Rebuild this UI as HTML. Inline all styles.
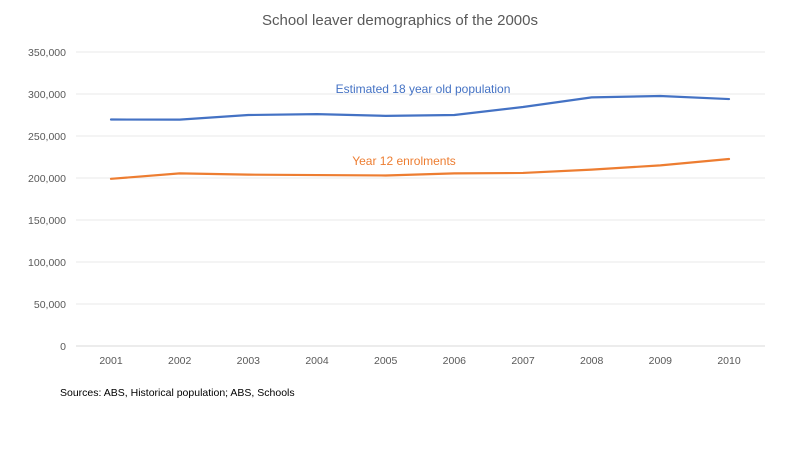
<!DOCTYPE html>
<html><head><meta charset="utf-8"><style>
body{margin:0;background:#fff;}
svg{font-family:"Liberation Sans",sans-serif;}
</style></head><body>
<svg id="chart" width="800" height="450">
<rect width="800" height="450" fill="#fff"/>
<text x="400" y="25" text-anchor="middle" font-size="15" fill="#595959">School leaver demographics of the 2000s</text>
<g id="grid"></g><g id="ylabels"></g><g id="xlabels"></g><g id="series"></g>
<text x="423" y="93" text-anchor="middle" font-size="12" fill="#4472c4">Estimated 18 year old population</text>
<text x="404" y="165" text-anchor="middle" font-size="12" fill="#ed7d31">Year 12 enrolments</text>
<text x="60" y="396" font-size="10.5" fill="#000">Sources: ABS, Historical population;  ABS, Schools</text>
</svg>
<script>
const years=['2001','2002','2003','2004','2005','2006','2007','2008','2009','2010'];
const population=[269600,269500,275000,276000,274000,275000,284500,296000,297600,294000];
const enrolments=[199000,205500,204000,203500,203000,205500,206000,210000,215000,222600];
const yTicks=[0,50000,100000,150000,200000,250000,300000,350000];
const NS='http://www.w3.org/2000/svg';
const x0=111,xStep=(729-111)/9,yBase=346,yTop=52,yMax=350000;
const xs=i=>x0+i*xStep;
const ys=v=>yBase-(v/yMax)*(yBase-yTop);
function mk(tag,attrs,parent){const e=document.createElementNS(NS,tag);for(const k in attrs)e.setAttribute(k,attrs[k]);document.getElementById(parent).appendChild(e);return e;}
yTicks.forEach(t=>{
  const l=mk('line',{x1:76,x2:765,y1:ys(t),y2:ys(t),stroke:t===0?'#d9d9d9':'#e8e8e8','stroke-width':1},'grid');
  
  
  const tx=mk('text',{x:66,y:ys(t)+4,'text-anchor':'end','font-size':10.5,fill:'#595959'},'ylabels');
  tx.textContent=t.toLocaleString('en-US');
  
  
});
years.forEach((y,i)=>{
  const tx=mk('text',{x:xs(i),y:364,'text-anchor':'middle','font-size':10.5,fill:'#595959'},'xlabels');
  tx.textContent=y;
  
  
});
function line(vals,color,name){
  const p=mk('polyline',{points:vals.map((v,i)=>xs(i)+','+ys(v)).join(' '),fill:'none',stroke:color,'stroke-width':2.2,'stroke-linejoin':'round','stroke-linecap':'round'},'series');
  
  
}
line(population,'#4472c4','population-line');
line(enrolments,'#ed7d31','enrolments-line');
</script>
</body></html>
